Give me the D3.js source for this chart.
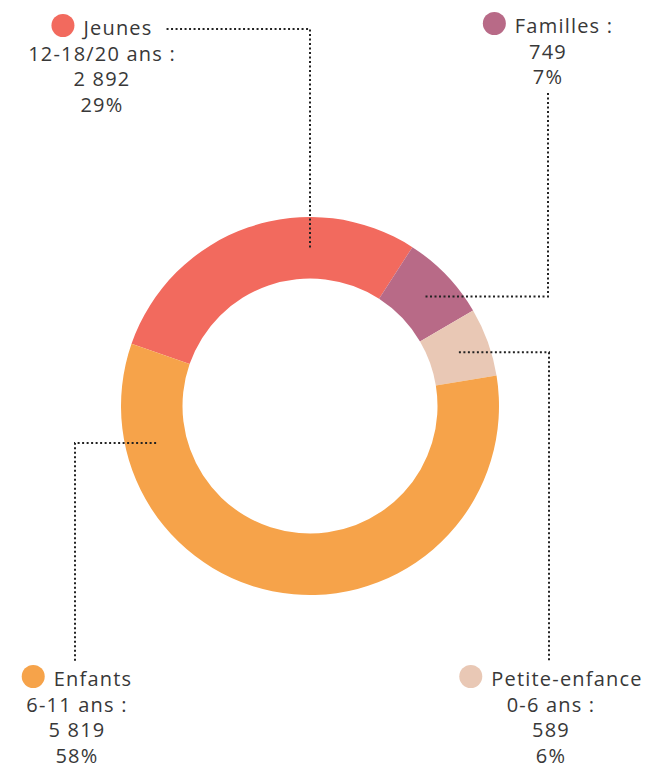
<!DOCTYPE html>
<html>
<head>
<meta charset="utf-8">
<script src="https://cdn.jsdelivr.net/npm/d3@7"></script>
<style>
  body { margin: 0; background: #fff; }
  svg text { font-family: "Open Sans", sans-serif; font-size: 20px; fill: #383838; letter-spacing: 1.2px; }
</style>
</head>
<body>
<svg></svg>
<script>
// data
const categories = ['Jeunes', 'Familles', 'Petite-enfance', 'Enfants']
const titles = ['Jeunes', 'Familles :', 'Petite-enfance', 'Enfants']
const subtitles = ['12-18/20 ans :', null, '0-6 ans :', '6-11 ans :']
const values = [2892, 749, 589, 5819]
const colors = ['#f26a5e', '#b86a87', '#e9c8b5', '#f6a34a']

// label placement (center x, first baseline y) and leader anchor angle (null = centroid)
const labelX = [102, 548, 551, 77]
const labelY = [35, 33, 686, 686]
const leaderAngle = [0, null, null, -103.5]
const leaderType = ['top', 'down', 'up', 'up']

const width = 652
const height = 769
const cx = 310
const cy = 406
const outerR = 189
const innerR = 127.5
const lineH = 25.5

let svg = d3.select('svg')
    .attr('width', width)
    .attr('height', height)

const fr = d3.formatLocale({ decimal: ',', thousands: '\u00a0', grouping: [3], currency: ['', ' €'] })
const fmt = fr.format(',d')
const total = d3.sum(values)

const data = categories.map((c, i) => ({ name: c, value: values[i], i: i }))

const pie = d3.pie()
    .value(d => d.value)
    .sort(null)
    .startAngle(-70.8 * Math.PI / 180)
    .endAngle((360 - 70.8) * Math.PI / 180)

const arc = d3.arc().innerRadius(innerR).outerRadius(outerR)
const midArc = d3.arc().innerRadius((innerR + outerR) / 2).outerRadius((innerR + outerR) / 2)

const arcs = pie(data)

const chart = svg.append('g').attr('transform', `translate(${cx},${cy})`)

chart.selectAll('path')
    .data(arcs)
    .enter()
    .append('path')
    .attr('d', arc)
    .attr('fill', d => colors[d.data.i])

// labels
const labels = svg.selectAll('g.label')
    .data(data)
    .enter()
    .append('g')
    .attr('class', 'label')

const textEnds = []
labels.each(function (d, i) {
    const g = d3.select(this)
    const x = labelX[i]
    let y = labelY[i]
    const r = 11.5
    const gap = 9
    const t = g.append('text').attr('y', y).text(titles[i])
    const w = t.node().getComputedTextLength()
    const left = x - (2 * r + gap + w) / 2
    t.attr('x', left + 2 * r + gap)
    g.append('circle')
        .attr('cx', left + r)
        .attr('cy', y - 9.5)
        .attr('r', r)
        .attr('fill', colors[i])
    textEnds[i] = left + 2 * r + gap + w

    const lines = []
    if (subtitles[i]) lines.push(subtitles[i])
    lines.push(fmt(values[i]))
    lines.push(Math.round(values[i] / total * 100) + '%')
    lines.forEach(s => {
        y += lineH
        g.append('text')
            .attr('x', x)
            .attr('y', y)
            .attr('text-anchor', 'middle')
            .text(s)
    })
    d.lastY = y
})

// leader lines
function anchor(i) {
    const a = arcs[i]
    if (leaderAngle[i] === null) {
        const c = midArc.centroid(a)
        return [cx + c[0], cy + c[1]]
    }
    const ang = leaderAngle[i] * Math.PI / 180
    const c = midArc.centroid({ startAngle: ang, endAngle: ang })
    return [cx + c[0], cy + c[1]]
}

const line = d3.line()
data.forEach((d, i) => {
    const [ax, ay] = anchor(i)
    let pts
    if (leaderType[i] === 'top') {
        const ly = labelY[i] - 6
        pts = [[textEnds[i] + 14, ly], [ax, ly], [ax, ay]]
    } else if (leaderType[i] === 'down') {
        pts = [[labelX[i], d.lastY + 9], [labelX[i], ay], [ax, ay]]
    } else {
        pts = [[ax, ay], [labelX[i] - 2, ay], [labelX[i] - 2, labelY[i] - 25]]
    }
    svg.append('path')
        .attr('d', line(pts))
        .attr('fill', 'none')
        .attr('stroke', '#222')
        .attr('stroke-width', 2)
        .attr('stroke-dasharray', '2 2.5')
})
</script>
</body>
</html>
